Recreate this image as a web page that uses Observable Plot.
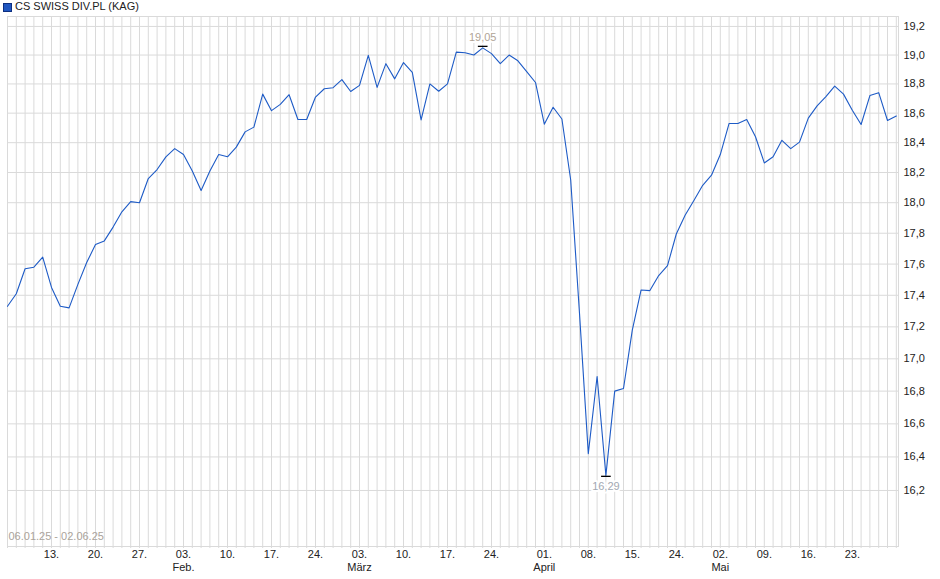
<!DOCTYPE html>
<html><head><meta charset="utf-8">
<script src="https://cdn.jsdelivr.net/npm/d3@7"></script>
<script src="https://cdn.jsdelivr.net/npm/@observablehq/plot@0.6"></script>
<style>
body{margin:0;background:#fff;font-family:"Liberation Sans",Arial,sans-serif;}
#title{height:14px;position:relative;font-size:11px;color:#222;}
#title .sw{position:absolute;left:3px;top:3px;width:7px;height:7px;background:#1f56c0;border:1px solid #0d2f80;}
#title .t{position:absolute;left:15px;top:0px;line-height:13px;white-space:nowrap;}
#chart svg{display:block;}
</style></head><body>
<div id="title"><span class="sw"></span><span class="t" id="tt"></span></div>
<div id="chart"></div>
<script>
const seriesName = "CS SWISS DIV.PL (KAG)";
const startDate = "2025-01-06";
const endDate = "2025-06-02";
const holidays = ["2025-04-18", "2025-04-21", "2025-05-01", "2025-05-29"];
const rangeLabel = "06.01.25 - 02.06.25";

// closing prices, one per trading day
const prices = [
  17.33, 17.41, 17.57, 17.58, 17.645, 17.45, 17.33, 17.32, 17.47, 17.61,
  17.726, 17.75, 17.84, 17.94, 18.007, 18.00, 18.16, 18.22, 18.305, 18.36,
  18.32, 18.21, 18.08, 18.21, 18.32, 18.305, 18.37, 18.473, 18.505, 18.73,
  18.617, 18.66, 18.726, 18.557, 18.557, 18.71, 18.767, 18.774, 18.83, 18.748,
  18.79, 18.998, 18.776, 18.94, 18.835, 18.948, 18.88, 18.554, 18.80, 18.75,
  18.80, 19.02, 19.016, 19.00, 19.05, 19.01, 18.94, 19.00, 18.96, 18.885,
  18.81, 18.525, 18.64, 18.56, 18.15, 17.285, 16.42, 16.89, 16.29, 16.80,
  16.816, 17.18, 17.434, 17.43, 17.526, 17.59, 17.795, 17.918, 18.015, 18.115,
  18.182, 18.32, 18.53, 18.53, 18.557, 18.44, 18.264, 18.305, 18.416, 18.36,
  18.404, 18.566, 18.65, 18.713, 18.785, 18.73, 18.62, 18.523, 18.72, 18.74,
  18.55, 18.58
];

const yTicks = [16.2, 16.4, 16.6, 16.8, 17.0, 17.2, 17.4, 17.6, 17.8, 18.0, 18.2, 18.4, 18.6, 18.8, 19.0, 19.2];
const yDomain = [15.871, 19.27];

const tickDates = ["2025-01-13", "2025-01-20", "2025-01-27", "2025-02-03", "2025-02-10", "2025-02-17", "2025-02-24",
  "2025-03-03", "2025-03-10", "2025-03-17", "2025-03-24", "2025-04-01", "2025-04-08", "2025-04-15", "2025-04-24",
  "2025-05-02", "2025-05-09", "2025-05-16", "2025-05-23"];
const monthDates = ["2025-02-03", "2025-03-03", "2025-04-01", "2025-05-02"];
const monthNames = ["Feb.", "März", "April", "Mai"];

document.getElementById("tt").textContent = seriesName;

// trading-day calendar
const fmtISO = d3.utcFormat("%Y-%m-%d");
const tradingDays = d3.utcDay.range(new Date(startDate + "T00:00Z"), d3.utcDay.offset(new Date(endDate + "T00:00Z"), 1))
  .filter(d => d.getUTCDay() !== 0 && d.getUTCDay() !== 6)
  .map(fmtISO)
  .filter(s => !holidays.includes(s));

const data = prices.map((v, i) => ({i, date: tradingDays[i], v}));
const idxOf = s => tradingDays.indexOf(s);
const tickIdx = tickDates.map(idxOf);
const dayLabel = new Map(tickDates.map(s => [idxOf(s), s.slice(8, 10) + "."]));
const monthIdx = monthDates.map(idxOf);
const monthLabel = new Map(monthDates.map((s, k) => [idxOf(s), monthNames[k]]));

const maxPt = data.reduce((a, b) => (b.v > a.v ? b : a));
const minPt = data.reduce((a, b) => (b.v < a.v ? b : a));
const comma = (v, p) => v.toFixed(p).replace(".", ",");

const grid = "#dadada";
const chart = Plot.plot({
  width: 940,
  height: 565,
  marginLeft: 7,
  marginRight: 42,
  marginTop: 2,
  marginBottom: 33,
  style: {fontFamily: '"Liberation Sans", Arial, sans-serif', fontSize: "11px", color: "#222", background: "#fff"},
  x: {type: "linear", domain: [0, data.length - 0.75], axis: null, label: null},
  y: {type: "log", domain: yDomain, axis: null, label: null},
  marks: [
    Plot.ruleX(data, {x: "i", stroke: grid, strokeWidth: 1}),
    Plot.ruleY(yTicks, {stroke: grid, strokeWidth: 1}),
    Plot.frame({stroke: grid, strokeWidth: 1}),
    Plot.axisX(data.map(d => d.i), {tickSize: 2, stroke: grid, tickFormat: () => "", label: null}),
    Plot.axisX(tickIdx, {tickSize: 0, tickPadding: 4, tickFormat: i => dayLabel.get(i), label: null}),
    Plot.axisX(monthIdx, {tickSize: 0, tickPadding: 17, tickFormat: i => monthLabel.get(i), label: null}),
    Plot.axisY(yTicks, {anchor: "right", tickSize: 0, tickPadding: 5, tickFormat: v => comma(v, 1), label: null}),
    Plot.text([rangeLabel], {text: d => d, frameAnchor: "bottom-left", textAnchor: "start", dx: 1, dy: -7, fill: "#aaa39b"}),
    Plot.line(data, {x: "i", y: "v", stroke: "#1e5bc6", strokeWidth: 1.1}),
    Plot.link([maxPt], {x1: d => d.i - 0.55, x2: d => d.i + 0.55, y1: "v", y2: "v", dy: -1.5, stroke: "#000", strokeWidth: 1.3}),
    Plot.link([minPt], {x1: d => d.i - 0.55, x2: d => d.i + 0.55, y1: "v", y2: "v", dy: 1, stroke: "#000", strokeWidth: 1.3}),
    Plot.text([maxPt], {x: "i", y: "v", text: d => comma(d.v, 2), dy: -10, fill: "#b0a496", stroke: "#fff", strokeWidth: 4, paintOrder: "stroke"}),
    Plot.text([minPt], {x: "i", y: "v", text: d => comma(d.v, 2), dy: 11, fill: "#a2a8b2", stroke: "#fff", strokeWidth: 4, paintOrder: "stroke"})
  ]
});
document.getElementById("chart").appendChild(chart);
</script>
</body></html>
